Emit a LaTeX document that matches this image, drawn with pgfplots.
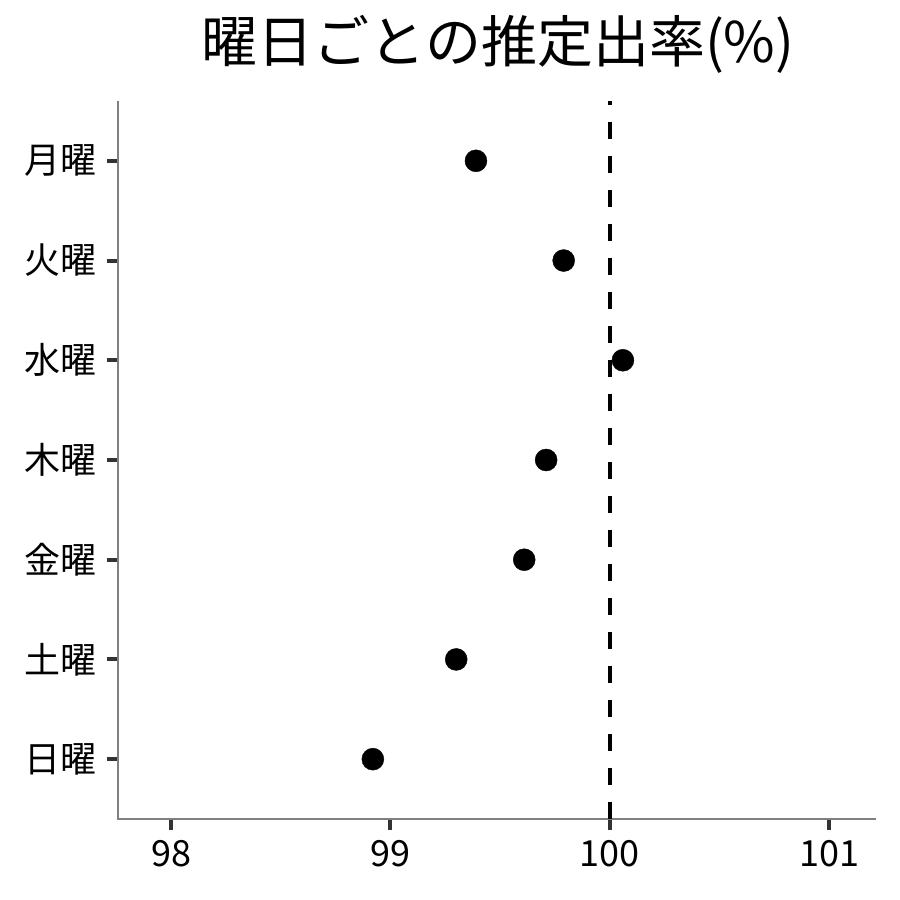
\documentclass[border=0pt]{standalone}
\usepackage{fontspec}
\setmainfont{Noto Sans CJK JP}
\usepackage{pgfplots}
\pgfplotsset{compat=1.18}
\pgfplotsset{every tick/.append style={line width=4bp}}
\begin{document}
\begin{tikzpicture}[x=1bp,y=1bp]
\path[use as bounding box] (0,0) rectangle (900,900);
\begin{axis}[
  at={(118bp,81bp)}, anchor=south west,
  scale only axis, width=758bp, height=718bp,
  xmin=97.758, xmax=101.214, ymin=0.4, ymax=7.6,
  axis line style={draw=none},
  tick style={draw=black!80, line width=4bp},
  major tick style={line width=4bp},
  major tick length=11bp,
  tick align=outside,
  xtick pos=bottom, ytick pos=left,
  xtick={98,99,100,101}, xticklabels={98,99,100,101},
  ytick={1,2,3,4,5,6,7},
  yticklabels={日曜,土曜,金曜,木曜,水曜,火曜,月曜},
  ticklabel style={font=\fontsize{36bp}{40bp}\selectfont, text=black},
  xticklabel style={yshift=-7bp},
  yticklabel style={xshift=-7bp},
  clip=false,
]
\draw[black!50, line width=1.1bp] (rel axis cs:0,1) -- (rel axis cs:0,0) -- (rel axis cs:1,0);
\addplot[black, line width=4bp, dash pattern=on 17bp off 17bp] coordinates {(100,0.4) (100,7.6)};
\addplot[only marks, mark=*, mark size=11bp, black] coordinates {
  (99.39,7) (99.79,6) (100.06,5) (99.71,4) (99.61,3) (99.30,2) (98.92,1)
};
\end{axis}
\node[font=\fontsize{56bp}{60bp}\selectfont] at (498,856) {曜日ごとの推定出率(\%)};
\end{tikzpicture}
\end{document}
